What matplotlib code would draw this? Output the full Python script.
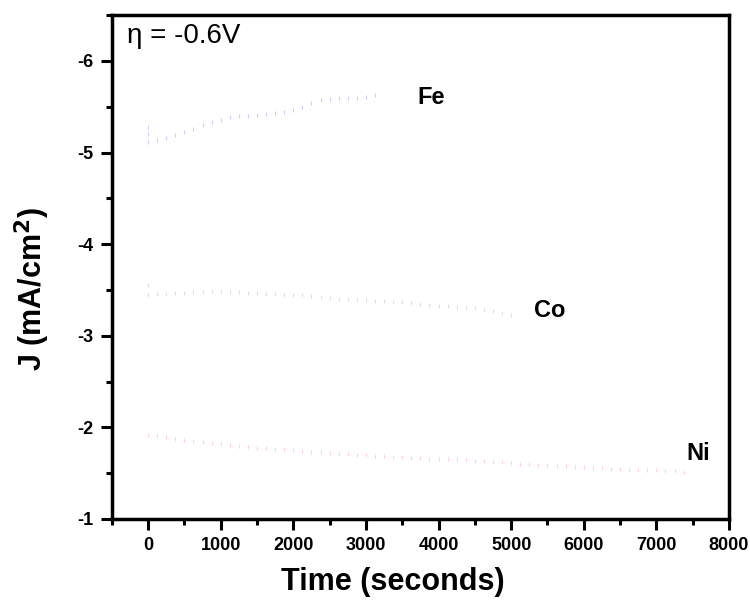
import matplotlib
matplotlib.use('Agg')
import matplotlib.pyplot as plt
import numpy as np

plt.rcParams['font.family'] = ['Liberation Sans', 'DejaVu Sans']
plt.rcParams['axes.unicode_minus'] = False

# chronoamperometry at eta = -0.6 V, sampled every 125 s
fe_time = np.arange(0, 3126, 125)
fe_j = [-5.12, -5.14, -5.16, -5.19, -5.22, -5.26, -5.30, -5.33, -5.36, -5.39,
        -5.40, -5.40, -5.41, -5.42, -5.43, -5.44, -5.46, -5.50, -5.54, -5.57,
        -5.59, -5.60, -5.60, -5.60, -5.61, -5.63]
fe_start_j = [-5.28, -5.20]

co_time = np.arange(0, 5001, 125)
co_j = [-3.45, -3.46, -3.46, -3.47, -3.47, -3.48, -3.48, -3.49, -3.49, -3.48,
        -3.48, -3.47, -3.47, -3.46, -3.46, -3.45, -3.45, -3.44, -3.43, -3.42,
        -3.41, -3.40, -3.40, -3.39, -3.39, -3.38, -3.38, -3.37, -3.37, -3.36,
        -3.35, -3.34, -3.33, -3.32, -3.31, -3.30, -3.30, -3.28, -3.27, -3.25,
        -3.23]
co_start_j = [-3.55]

ni_time = np.arange(0, 7376, 125)
ni_j = [-1.92, -1.91, -1.89, -1.87, -1.86, -1.85, -1.84, -1.83, -1.82, -1.81,
        -1.80, -1.79, -1.78, -1.77, -1.76, -1.76, -1.75, -1.74, -1.73, -1.73,
        -1.72, -1.71, -1.71, -1.70, -1.70, -1.69, -1.69, -1.68, -1.68, -1.67,
        -1.67, -1.66, -1.66, -1.65, -1.65, -1.64, -1.63, -1.63, -1.62, -1.62,
        -1.61, -1.60, -1.60, -1.59, -1.59, -1.58, -1.58, -1.57, -1.57, -1.56,
        -1.56, -1.55, -1.55, -1.54, -1.54, -1.53, -1.53, -1.52, -1.52, -1.51]

x_ticks = [0, 1000, 2000, 3000, 4000, 5000, 6000, 7000, 8000]
y_ticks = [-1, -2, -3, -4, -5, -6]

fig = plt.figure(figsize=(7.5, 6.06), dpi=100)
ax = fig.add_axes([0.149, 0.1436, 0.823, 0.8314])

mk = dict(linestyle='none', marker='|', markersize=3.5, markeredgewidth=0.8)
ax.plot(fe_time, fe_j, color='#d2ccfc', **mk)
ax.plot([0] * len(fe_start_j), fe_start_j, color='#d2ccfc', **mk)
ax.plot(co_time, co_j, color='#dedede', **mk)
ax.plot([0] * len(co_start_j), co_start_j, color='#dedede', **mk)
ax.plot(ni_time, ni_j, color='#ffd2d6', **mk)

ax.text(3900, -5.60, 'Fe', fontsize=17, fontweight='bold', ha='center', va='center')
ax.text(5530, -3.28, 'Co', fontsize=17, fontweight='bold', ha='center', va='center')
ax.text(7570, -1.72, 'Ni', fontsize=17, fontweight='bold', ha='center', va='center')
ax.text(-285, -6.27, 'η = -0.6V', fontsize=20, ha='left', va='center')

ax.set_xlim(-500, 8000)
ax.set_ylim(-1, -6.5)
ax.set_xticks(x_ticks)
ax.set_yticks(y_ticks)
ax.set_xticks(np.arange(-500, 8001, 500), minor=True)
ax.set_yticks(np.arange(-6.5, -0.9, 0.5), minor=True)
ax.tick_params(which='major', length=8, width=2.2, direction='out', labelsize=13, pad=5)
ax.tick_params(which='minor', length=4, width=2.2, direction='out')
for lab in ax.get_xticklabels() + ax.get_yticklabels():
    lab.set_fontweight('bold')
for sp in ax.spines.values():
    sp.set_linewidth(2.5)

ax.set_xlabel('Time (seconds)', fontsize=22, fontweight='bold')
ax.set_ylabel('J (mA/cm$^\\mathbf{2}$)', fontsize=22, fontweight='bold')
ax.xaxis.set_label_coords(0.455, -0.095)
ax.yaxis.set_label_coords(-0.097, 0.456)

plt.savefig('out.png', dpi=100)
